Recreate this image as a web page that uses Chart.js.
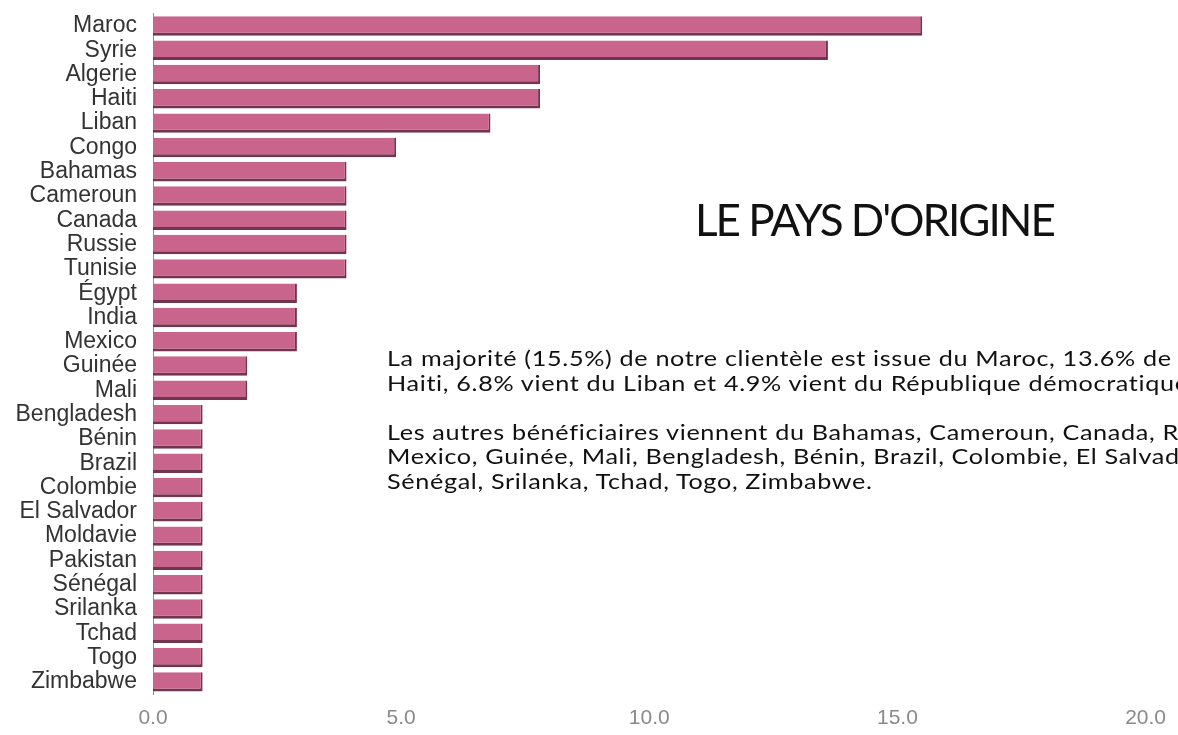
<!DOCTYPE html>
<html>
<head>
<meta charset="utf-8">
<script src="https://cdn.jsdelivr.net/npm/chart.js@4.4.0/dist/chart.umd.min.js"></script>
<style>
    html, body { margin: 0; padding: 0; background: #fff; overflow: hidden; }
    #wrap { position: relative; width: 1178px; height: 735px; overflow: hidden; }
    #chart-origine { position: absolute; left: 0; top: -16px; }
    .note { position: absolute; white-space: nowrap; font-family: Lato, "Open Sans", sans-serif; color: #111; transform-origin: 0 0; }
    #title { left: 695px; top: 193px; font-size: 44px; letter-spacing: -2px; }
    #para { left: 387px; top: 346px; font-size: 21px; line-height: 24.5px; letter-spacing: 0.55px; transform: scaleX(1.2); }
</style>
</head>
<body>
<div id="wrap">
    <canvas id="chart-origine" width="1178" height="751"></canvas>
    <div class="note" id="title">LE PAYS D'ORIGINE</div>
    <div class="note" id="para">
        La majorité (15.5%) de notre clientèle est issue du Maroc, 13.6% de Syrie, 7.8% de l'Algérie,<br>
        Haiti, 6.8% vient du Liban et 4.9% vient du République démocratique du Congo.<br>
        <br>
        Les autres bénéficiaires viennent du Bahamas, Cameroun, Canada,  Russie, Tunisie, Égypt, India,<br>
        Mexico, Guinée, Mali, Bengladesh, Bénin, Brazil, Colombie, El Salvador, Moldavie, Pakistan,<br>
        Sénégal, Srilanka, Tchad, Togo, Zimbabwe.
    </div>
</div>
<script>
// countries (top to bottom)
const pays = ["Maroc", "Syrie", "Algerie", "Haiti", "Liban", "Congo", "Bahamas", "Cameroun", "Canada", "Russie",
    "Tunisie", "Égypt", "India", "Mexico", "Guinée", "Mali", "Bengladesh", "Bénin", "Brazil", "Colombie",
    "El Salvador", "Moldavie", "Pakistan", "Sénégal", "Srilanka", "Tchad", "Togo", "Zimbabwe"];
// percent of clients
const pourcentages = [15.5, 13.6, 7.8, 7.8, 6.8, 4.9, 3.9, 3.9, 3.9, 3.9,
    3.9, 2.9, 2.9, 2.9, 1.9, 1.9, 1.0, 1.0, 1.0, 1.0,
    1.0, 1.0, 1.0, 1.0, 1.0, 1.0, 1.0, 1.0];
const xTicks = [0, 5, 10, 15, 20];

// canvas sits 16px above the page top, so the bars start close to the edge
const ctx = document.getElementById('chart-origine');
new Chart(ctx, {
    type: 'bar',
    data: {
        labels: pays,
        datasets: [{
            label: '%',
            data: pourcentages,
            backgroundColor: '#c9648c',
            borderColor: '#73344f',
            borderWidth: { top: 0, left: 0, right: 2, bottom: 3 },
            borderSkipped: false,
            barPercentage: 0.8,
            categoryPercentage: 1.0
        }]
    },
    options: {
        indexAxis: 'y',
        responsive: false,
        animation: false,
        layout: { padding: { top: 0, right: 25, bottom: 0, left: 0 } },
        plugins: {
            legend: { display: false },
            tooltip: { enabled: false }
        },
        scales: {
            x: {
                min: 0,
                max: 20,
                afterBuildTicks: (scale) => { scale.ticks = xTicks.map(v => ({ value: v })); },
                afterFit: (scale) => { scale.height = 41; },
                grid: { display: false, drawTicks: false },
                border: { display: false },
                ticks: {
                    padding: 12,
                    color: '#8a8a8a',
                    font: { family: 'Liberation Sans', size: 21 },
                    callback: (v) => Number(v).toFixed(1)
                }
            },
            y: {
                afterFit: (scale) => { scale.width = 153; },
                grid: { display: false, drawTicks: false },
                border: { display: true, color: '#909090', width: 1 },
                ticks: {
                    autoSkip: false,
                    padding: 16,
                    color: '#333',
                    font: { family: 'Liberation Sans', size: 23 }
                }
            }
        }
    }
});
</script>
</body>
</html>
